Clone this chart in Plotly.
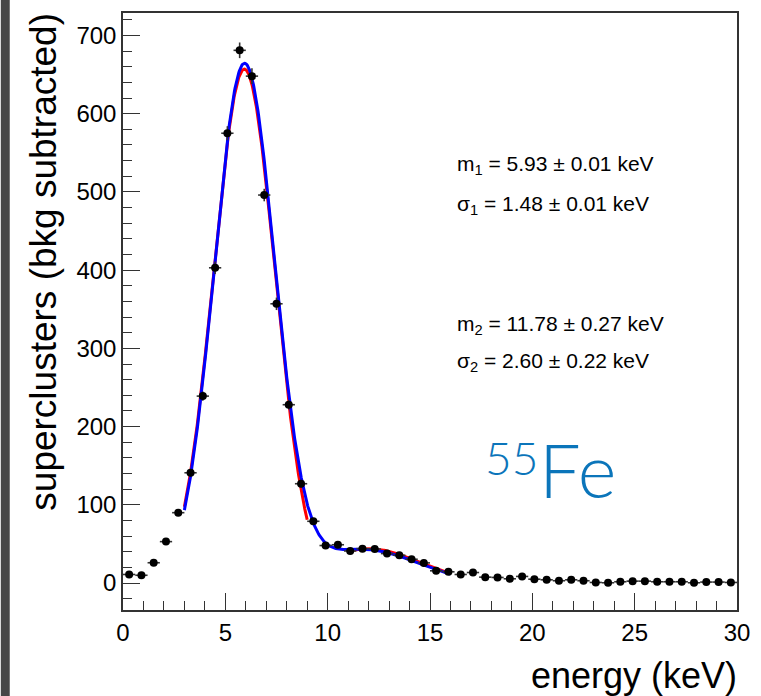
import numpy as np
import plotly.graph_objects as go

# ---------------- data ----------------
bin_centers = [0.3 + 0.6 * i for i in range(50)]
counts = [11, 10, 26, 53, 90, 141, 239, 403, 575, 681,
          648, 496, 357, 228, 127, 79, 48, 49, 41, 44,
          43.6, 37.7, 35.6, 30.5, 25.8, 15.7, 14.4, 11, 13.5, 7.6,
          7.2, 5.5, 8.5, 5, 4.2, 3, 4.2, 3, 0.8, 0.4,
          1.7, 2.5, 2.5, 1.7, 1.7, 1.7, 0.4, 1.3, 1.3, 0.8]
count_errors = [3, 3, 3, 3.5, 4, 5, 6, 8, 9, 10,
                10, 8, 8, 6, 5, 4, 3.5, 3.5, 3.5, 3.5,
                3.5, 3, 3, 3, 3, 2.5, 2.5, 2.5, 2.5, 2,
                2, 2, 2, 2, 2, 2, 2, 2, 2, 2,
                2, 2, 2, 2, 2, 2, 2, 2, 2, 2]
half_bin = 0.3

# combined fit (blue): two gaussians
blue_A1, blue_m1, blue_s1 = 661, 5.93, 1.48
blue_A2, blue_m2, blue_s2 = 43, 11.78, 2.60
blue_range = (3.0, 16.0)
# separate fits (red)
red1_A, red1_m, red1_s, red1_range = 657, 5.93, 1.50, (3.0, 9.0)
red2_A, red2_m, red2_s, red2_range = 44, 12.0, 2.50, (11.05, 16.0)

fit_labels = ["m<sub>1</sub> = 5.93 ± 0.01 keV",
              "σ<sub>1</sub> = 1.48 ± 0.01 keV",
              "m<sub>2</sub> = 11.78 ± 0.27 keV",
              "σ<sub>2</sub> = 2.60 ± 0.22 keV"]
fit_label_y = [535, 483, 330, 283]

x_title = "energy (keV)"
y_title = "superclusters (bkg subtracted)"


def gauss(x, A, m, s):
    return A * np.exp(-0.5 * ((x - m) / s) ** 2)


# ---------------- layout helpers ----------------
W, H = 761, 696
L, R, T, B = 123, 20, 11, 86
PW, PH = W - L - R, H - T - B


def px_x(p):
    return (p - L) / PW


def px_y(p):
    return (H - B - p) / PH


FONT = "Liberation Sans, Arial, Helvetica, sans-serif"

fig = go.Figure()

# red separate fits
xr1 = np.linspace(*red1_range, 300)
fig.add_trace(go.Scatter(x=xr1, y=gauss(xr1, red1_A, red1_m, red1_s), mode="lines",
                         line=dict(color="#ff0000", width=3), hoverinfo="skip", showlegend=False))
xr2 = np.linspace(*red2_range, 200)
fig.add_trace(go.Scatter(x=xr2, y=gauss(xr2, red2_A, red2_m, red2_s), mode="lines",
                         line=dict(color="#ff0000", width=3), hoverinfo="skip", showlegend=False))
# blue combined fit
xb = np.linspace(*blue_range, 500)
yb = gauss(xb, blue_A1, blue_m1, blue_s1) + gauss(xb, blue_A2, blue_m2, blue_s2)
fig.add_trace(go.Scatter(x=xb, y=yb, mode="lines",
                         line=dict(color="#0000ff", width=3), hoverinfo="skip", showlegend=False))

# data points
fig.add_trace(go.Scatter(
    x=bin_centers, y=counts, mode="markers",
    marker=dict(color="black", size=8),
    error_y=dict(type="data", array=count_errors, thickness=1.6, width=0, color="#333333"),
    error_x=dict(type="constant", value=half_bin, thickness=1.6, width=0, color="#333333"),
    showlegend=False))

annotations = []
for txt, yv in zip(fit_labels, fit_label_y):
    annotations.append(dict(x=16.2, y=yv, xref="x", yref="y", text=txt, showarrow=False,
                            xanchor="left", yanchor="middle",
                            font=dict(family=FONT, size=21, color="black")))

# 55Fe label
annotations.append(dict(x=px_x(543), y=px_y(457), xref="paper", yref="paper", text="55",
                        showarrow=False, xanchor="right", yanchor="middle",
                        font=dict(family="Lato, " + FONT, size=46, color="#0B75BA", weight=300)))
annotations.append(dict(x=px_x(540), y=px_y(469), xref="paper", yref="paper", text="Fe",
                        showarrow=False, xanchor="left", yanchor="middle",
                        font=dict(family="Lato, " + FONT, size=74, color="#0B75BA", weight=300)))

# axis titles
annotations.append(dict(x=px_x(743), y=px_y(676), xref="paper", yref="paper", text=x_title,
                        showarrow=False, xanchor="right", yanchor="middle",
                        font=dict(family=FONT, size=36, color="black")))
annotations.append(dict(x=px_x(43), y=px_y(261), xref="paper", yref="paper", text=y_title,
                        showarrow=False, xanchor="center", yanchor="middle", textangle=-90,
                        font=dict(family=FONT, size=37, color="black")))

axis_common = dict(showgrid=False, zeroline=False, showline=True, mirror=True,
                   linecolor="#333333", linewidth=1.5, ticks="inside", ticklen=17,
                   tickwidth=1.3, tickcolor="#333333",
                   tickfont=dict(family=FONT, size=24, color="black"))

fig.update_layout(
    width=W, height=H,
    margin=dict(l=L, r=R, t=T, b=B),
    paper_bgcolor="white", plot_bgcolor="white",
    xaxis=dict(range=[0, 30], dtick=5, tick0=0,
               minor=dict(ticks="inside", ticklen=9, dtick=1, tickwidth=1.3,
                          tickcolor="#333333", showgrid=False),
               **axis_common),
    yaxis=dict(range=[-34.4, 728.7], dtick=100, tick0=0,
               minor=dict(ticks="inside", ticklen=9, dtick=20, tickwidth=1.3,
                          tickcolor="#333333", showgrid=False),
               **axis_common),
    annotations=annotations,
    shapes=[dict(type="rect", xref="paper", yref="paper",
                 x0=px_x(0), x1=px_x(9), y0=px_y(H + 2), y1=px_y(-2),
                 fillcolor="#464646", line=dict(width=0), layer="above")],
)

fig.write_html("out.html")
